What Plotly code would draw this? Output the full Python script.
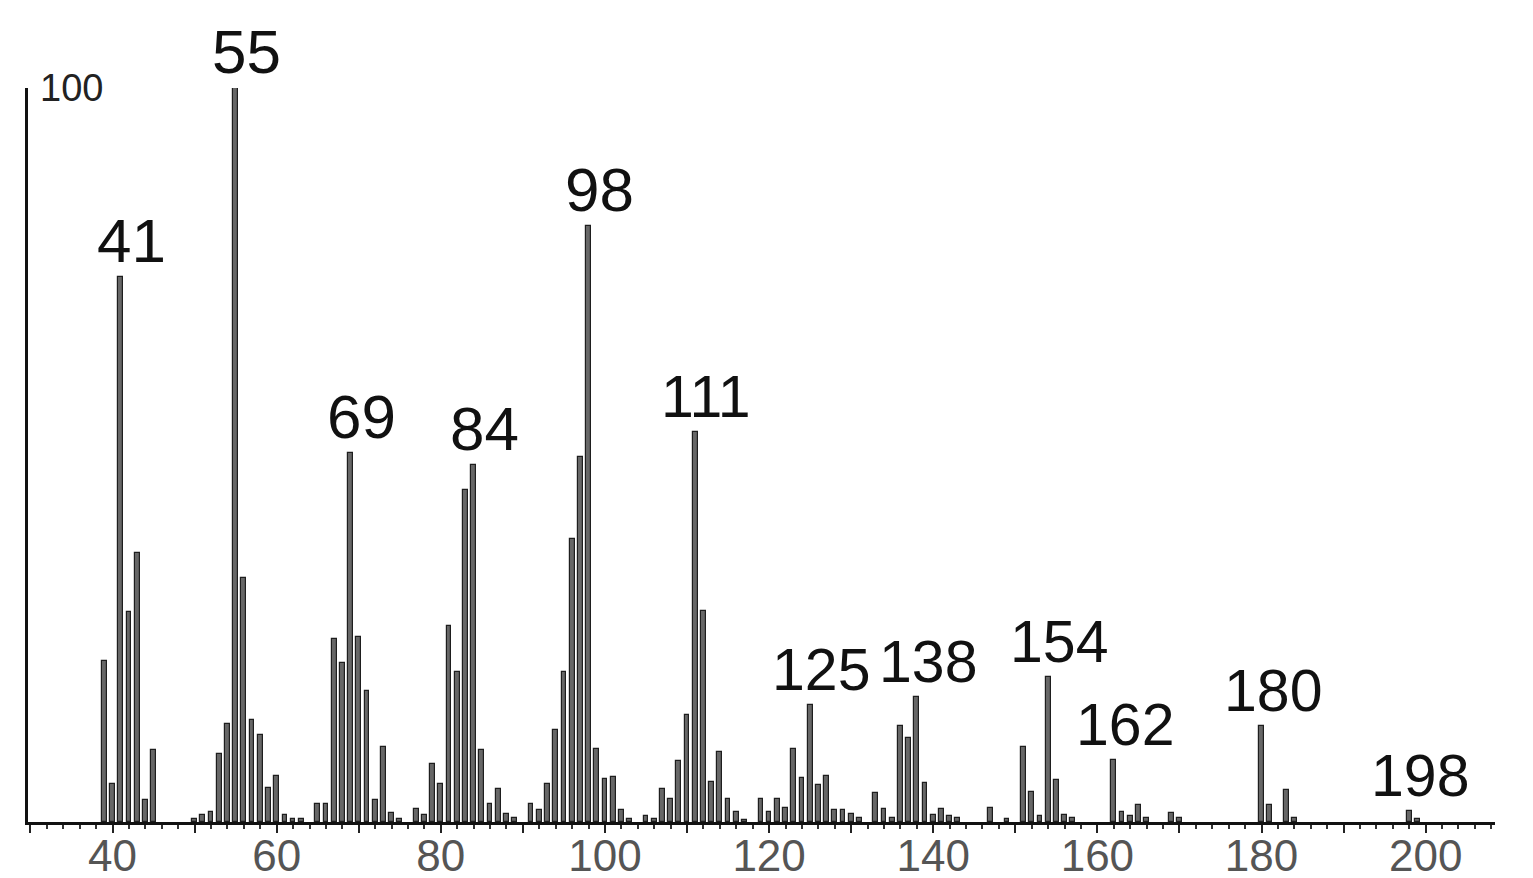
import plotly.graph_objects as go

# m/z values and relative intensities (%)
mz = [39, 40, 41, 42, 43, 44, 45, 50, 51, 52, 53, 54, 55, 56, 57, 58, 59, 60, 61, 62, 63,
      65, 66, 67, 68, 69, 70, 71, 72, 73, 74, 75, 77, 78, 79, 80, 81, 82, 83, 84, 85, 86, 87,
      88, 89, 91, 92, 93, 94, 95, 96, 97, 98, 99, 100, 101, 102, 103, 105, 106, 107, 108,
      109, 110, 111, 112, 113, 114, 115, 116, 117, 119, 120, 121, 122, 123, 124, 125, 126,
      127, 128, 129, 130, 131, 133, 134, 135, 136, 137, 138, 139, 140, 141, 142, 143, 147,
      149, 151, 152, 153, 154, 155, 156, 157, 162, 163, 164, 165, 166, 169, 170, 180, 181,
      183, 184, 198, 199]
intensity = [21.9, 5.2, 74.3, 28.6, 36.6, 3.0, 9.8, 0.4, 0.9, 1.4, 9.3, 13.4, 100, 33.3, 13.9,
             11.8, 4.7, 6.2, 1.0, 0.4, 0.4,
             2.4, 2.4, 25.0, 21.7, 50.3, 25.2, 17.9, 3.0, 10.2, 1.2, 0.4, 1.8, 0.9, 7.9, 5.2,
             26.7, 20.5, 45.2, 48.7, 9.8, 2.4, 4.5,
             1.1, 0.5, 2.4, 1.6, 5.2, 12.5, 20.4, 38.6, 49.7, 81.2, 9.9, 5.9, 6.1, 1.7, 0.4,
             0.8, 0.4, 4.5, 3.2,
             8.3, 14.6, 53.1, 28.7, 5.4, 9.6, 3.2, 1.4, 0.3, 3.1, 1.4, 3.1, 1.9, 10.0, 6.0,
             15.9, 5.1,
             6.2, 1.7, 1.7, 1.1, 0.5, 4.0, 1.8, 0.6, 13.1, 11.4, 17.0, 5.3, 1.0, 1.8, 0.8, 0.5,
             1.9,
             0.4, 10.2, 4.1, 0.8, 19.8, 5.7, 1.0, 0.5, 8.4, 1.4, 0.8, 2.3, 0.5, 1.2, 0.6, 13.1,
             2.3,
             4.3, 0.5, 1.5, 0.4]

# labelled peaks
label_mz = [41, 55, 69, 84, 98, 111, 125, 138, 154, 162, 180, 198]

# axis ticks
tick_vals = [30, 40, 50, 60, 70, 80, 90, 100, 110, 120, 130, 140, 150, 160, 170, 180, 190, 200]
tick_text = ["", "40", "", "60", "", "80", "", "100", "", "120", "", "140", "", "160", "",
             "180", "", "200"]

FONT = "Liberation Sans, Arial, sans-serif"

fig = go.Figure()
fig.add_trace(go.Bar(
    x=mz, y=intensity, width=0.58,
    marker=dict(color="#676767", line=dict(color="#1e1e1e", width=1.2)),
    hoverinfo="x+y",
))

lookup = dict(zip(mz, intensity))
for m in label_mz:
    txt = str(m)
    fig.add_annotation(
        x=m, y=lookup[m], xref="x", yref="y", text=txt, showarrow=False,
        xanchor="center", yanchor="bottom", xshift=11, yshift=0,
        font=dict(family=FONT, size=62 if len(txt) == 2 else 59, color="#111111"),
    )

fig.add_annotation(
    x=35.0, y=100, xref="x", yref="y", text="100", showarrow=False,
    xanchor="center", yanchor="middle",
    font=dict(family=FONT, size=38, color="#222222"),
)

fig.update_layout(
    width=1533, height=878,
    margin=dict(l=20, r=46, t=80, b=64, autoexpand=False),
    paper_bgcolor="white", plot_bgcolor="white",
    showlegend=False, bargap=0,
)
fig.update_xaxes(
    range=[29.7, 208.45], showgrid=False, zeroline=False, automargin=False,
    showline=True, linecolor="#111111", linewidth=3,
    tickmode="array", tickvals=tick_vals, ticktext=tick_text,
    ticks="outside", ticklen=8, tickwidth=2, tickcolor="#222222",
    ticklabelstandoff=-15,
    minor=dict(dtick=2, tick0=0, ticks="outside", ticklen=4, tickwidth=2, tickcolor="#333333"),
    tickfont=dict(family=FONT, size=44, color="#555555"),
)
fig.update_yaxes(
    range=[0, 100], showgrid=False, zeroline=False, automargin=False,
    showline=True, linecolor="#111111", linewidth=2.5,
    showticklabels=False, ticks="",
)

fig.write_html("out.html")
